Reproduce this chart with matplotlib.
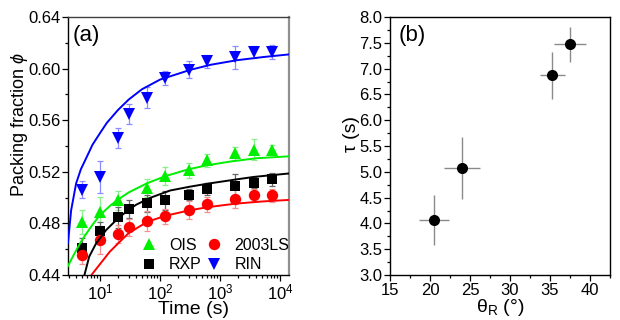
import matplotlib
matplotlib.use("Agg")
import matplotlib.pyplot as plt
from matplotlib.lines import Line2D
from matplotlib.ticker import MultipleLocator, LogLocator, NullFormatter

plt.rcParams['font.family'] = ['Liberation Sans', 'DejaVu Sans']
plt.rcParams['mathtext.fontset'] = 'custom'
plt.rcParams['mathtext.rm'] = 'Liberation Sans'
plt.rcParams['mathtext.it'] = 'Liberation Sans:italic'
plt.rcParams['mathtext.default'] = 'regular'

# ---------------- panel (a) data ----------------
t_all = [5, 10, 20, 30, 60, 120, 300, 600, 1800, 3600, 7200]
t_ois = [5, 10, 20, 60, 120, 300, 600, 1800, 3600, 7200]

ois_phi = [0.4808, 0.4890, 0.4980, 0.5071, 0.5166, 0.5212, 0.5290, 0.5342, 0.5372, 0.5370]
ois_err = [0.0093, 0.0116, 0.0075, 0.0070, 0.0070, 0.0057, 0.0050, 0.0050, 0.0080, 0.0040]

rxp_phi = [0.4607, 0.4743, 0.4846, 0.4911, 0.4955, 0.4978, 0.5024, 0.5065, 0.5091, 0.5117, 0.5143]
rxp_err = [0.0080, 0.0070, 0.0080, 0.0070, 0.0065, 0.0077, 0.0040, 0.0045, 0.0090, 0.0040, 0.0050]

ls_phi = [0.4555, 0.4671, 0.4715, 0.4769, 0.4818, 0.4856, 0.4903, 0.4949, 0.4993, 0.5019, 0.5019]
ls_err = [0.0070, 0.0110, 0.0070, 0.0065, 0.0077, 0.0058, 0.0068, 0.0058, 0.0077, 0.0045, 0.0050]

rin_phi = [0.5060, 0.5156, 0.5462, 0.5651, 0.5775, 0.5927, 0.5991, 0.6058, 0.6087, 0.6128, 0.6128]
rin_err = [0.0066, 0.0124, 0.0080, 0.0077, 0.0080, 0.0055, 0.0067, 0.0050, 0.0090, 0.0045, 0.0055]

# fitted curves
fit_rin_t = [2.93, 3.3, 4.0, 4.8, 5.8, 7.5, 10, 13, 20, 30, 50, 100, 200, 316, 700, 1900, 5300, 14000]
fit_rin_v = [0.465, 0.490, 0.511, 0.522, 0.530, 0.541, 0.550, 0.558, 0.568, 0.576, 0.584, 0.5915,
             0.596, 0.599, 0.603, 0.6065, 0.609, 0.611]
fit_ois_t = [2.93, 3.5, 4.0, 5.0, 6.0, 7.5, 10, 15, 20, 30, 60, 120, 300, 600, 1500, 4000, 14000]
fit_ois_v = [0.447, 0.454, 0.459, 0.467, 0.4725, 0.479, 0.4865, 0.494, 0.4985, 0.504, 0.511,
             0.5165, 0.522, 0.525, 0.528, 0.5305, 0.532]
fit_rxp_t = [5.5, 6.6, 8.6, 12.6, 20, 30, 40, 70, 147, 300, 600, 1800, 3600, 7200, 14000]
fit_rxp_v = [0.440, 0.4542, 0.4645, 0.4748, 0.484, 0.4905, 0.4945, 0.500, 0.5055, 0.5083,
             0.5107, 0.514, 0.516, 0.5174, 0.5187]
fit_ls_t = [7.2, 9.7, 14.5, 20, 30, 40, 60, 120, 300, 600, 1800, 5000, 14000]
fit_ls_v = [0.440, 0.4477, 0.458, 0.4645, 0.4725, 0.476, 0.481, 0.4858, 0.490, 0.4925, 0.4953,
            0.497, 0.4982]

# ---------------- panel (b) data ----------------
theta = [20.5, 24.0, 35.3, 37.5]
theta_err = [1.9, 2.3, 1.55, 2.0]
tau = [4.07, 5.07, 6.87, 7.47]
tau_err = [0.49, 0.60, 0.45, 0.34]

fig = plt.figure(figsize=(6.2, 3.2), dpi=100)
ax1 = fig.add_axes([68/620, 45/320, 221/620, 258/320])
ax2 = fig.add_axes([390/620, 45/320, 220/620, 258/320])

series = [
    (t_ois, ois_phi, ois_err, '^', '#00ee00', '#88f088', fit_ois_t, fit_ois_v, 8.5),
    (t_all, rxp_phi, rxp_err, 's', 'black', '#666666', fit_rxp_t, fit_rxp_v, 7.2),
    (t_all, ls_phi, ls_err, 'o', '#ff0000', '#f59090', fit_ls_t, fit_ls_v, 8.2),
    (t_all, rin_phi, rin_err, 'v', '#0000ff', '#8c8cff', fit_rin_t, fit_rin_v, 8.5),
]
for t, v, e, m, c, ec, ft, fv, ms in series:
    ax1.errorbar(t, v, yerr=e, fmt='none', ecolor=ec, elinewidth=0.9, capsize=2.2,
                 capthick=0.9, zorder=2)
    ax1.plot(t, v, linestyle='none', marker=m, color=c, markersize=ms,
             markeredgewidth=0, zorder=3)
    ax1.plot(ft, fv, color=c, lw=1.4, zorder=4)

ax1.set_xscale('log')
ax1.set_xlim(2.93, 14000)
ax1.set_ylim(0.44, 0.64)
ax1.yaxis.set_major_locator(MultipleLocator(0.04))
ax1.yaxis.set_minor_locator(MultipleLocator(0.02))
ax1.yaxis.set_major_formatter(plt.FuncFormatter(lambda v, p: f"{v:.2f}"))
ax1.xaxis.set_major_locator(LogLocator(base=10, numticks=10))
ax1.xaxis.set_minor_locator(LogLocator(base=10, subs=range(2, 10), numticks=20))
ax1.xaxis.set_minor_formatter(NullFormatter())
ax1.set_xlabel('Time (s)', fontsize=14)
ax1.set_ylabel(r'Packing fraction $\it{\phi}$', fontsize=13)
ax1.xaxis.set_label_coords((193 - 68) / 221, -(314 - 275) / 258)
ax1.yaxis.set_label_coords(-(68 - 20) / 221, (275 - 125) / 258)
ax1.xaxis.label.set_va('baseline')
ax1.yaxis.label.set_va('center')
ax1.text(0.02, 0.93, '(a)', transform=ax1.transAxes, fontsize=16, va='center', ha='left')

handles = [
    Line2D([], [], ls='none', marker='^', color='#00ee00', markersize=8.5, markeredgewidth=0),
    Line2D([], [], ls='none', marker='s', color='black', markersize=7.2, markeredgewidth=0),
    Line2D([], [], ls='none', marker='o', color='#ff0000', markersize=8.2, markeredgewidth=0),
    Line2D([], [], ls='none', marker='v', color='#0000ff', markersize=8.5, markeredgewidth=0),
]
ax1.legend(handles, ['OIS', 'RXP', '2003LS', 'RIN'], ncol=2, frameon=False,
           loc='lower left', bbox_to_anchor=((141 - 68) / 221, 0.01), fontsize=11.5,
           handlelength=1.0, handletextpad=0.75, columnspacing=0.3, labelspacing=0.3,
           borderpad=0.0, borderaxespad=0.0)

# ---------------- panel (b) ----------------
ax2.errorbar(theta, tau, xerr=theta_err, yerr=tau_err, fmt='o', color='black',
             ecolor='#8a8a8a', elinewidth=1.0, capsize=2.2, capthick=1.0,
             markersize=8, markeredgewidth=0, zorder=3)
ax2.set_xlim(15, 42.5)
ax2.set_ylim(3.0, 8.0)
ax2.xaxis.set_major_locator(MultipleLocator(5))
ax2.xaxis.set_minor_locator(MultipleLocator(2.5))
ax2.yaxis.set_major_locator(MultipleLocator(0.5))
ax2.yaxis.set_minor_locator(MultipleLocator(0.25))
ax2.yaxis.set_major_formatter(plt.FuncFormatter(lambda v, p: f"{v:.1f}"))
ax2.set_xlabel(r'θ$_\mathrm{R}$ (°)', fontsize=14)
ax2.set_ylabel('τ (s)', fontsize=14)
ax2.xaxis.set_label_coords(0.5, -(312 - 275) / 258)
ax2.yaxis.set_label_coords(-(390 - 352) / 220, (275 - 134) / 258)
ax2.xaxis.label.set_va('baseline')
ax2.yaxis.label.set_va('center')
ax2.text(0.04, 0.93, '(b)', transform=ax2.transAxes, fontsize=16, va='center', ha='left')

for ax in (ax1, ax2):
    ax.tick_params(which='both', direction='out', labelsize=12, pad=1.5,
                   top=False, right=False, width=0.9)
    ax.tick_params(which='major', length=4)
    ax.tick_params(which='minor', length=2.2)
    for s in ax.spines.values():
        s.set_linewidth(1.0)
ax1.spines['right'].set_color('#909090')
ax1.spines['right'].set_linewidth(1.6)
ax1.spines['top'].set_color('#404040')

fig.savefig('out.png', dpi=100)
